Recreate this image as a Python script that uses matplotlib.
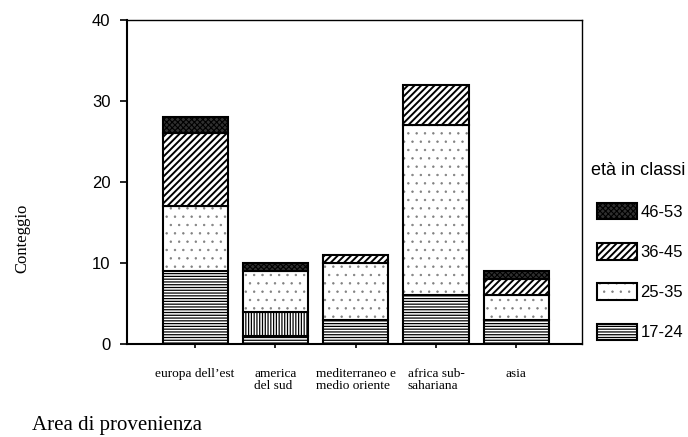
import numpy as np
import matplotlib as mpl
import matplotlib.pyplot as plt
from matplotlib.colors import to_rgba
from matplotlib.patches import Patch

aree = ["europa dell\u2019est", "america\ndel sud", "mediterraneo e\nmedio oriente",
        "africa sub-\nsahariana", "asia"]

# conteggi per classe di età
c17_24 = [9, 1, 3, 6, 3]
c_altro = [0, 3, 0, 0, 0]
c25_35 = [8, 5, 7, 21, 3]
c36_45 = [9, 0, 1, 5, 2]
c46_53 = [2, 1, 0, 0, 1]

classi = ["17-24", "25-35", "36-45", "46-53"]

# (hatch, colore di fondo, colore tratteggio, spessore tratteggio)
stile = {
    "17-24": ('------', 'white', 'black', 0.9),
    "altro": ('||||||', 'white', 'black', 0.9),
    "25-35": ('..', 'white', '#808080', 0.5),
    "36-45": ('/////', 'white', 'black', 1.4),
    "46-53": ('xxxxxx', '#303030', 'black', 0.8),
}

fig = plt.figure(figsize=(6.88, 4.37), dpi=100)
ax = fig.add_axes([0.1846, 0.2128, 0.6616, 0.7414])

x = np.arange(len(aree))
w = 0.81
serie = [("17-24", c17_24), ("altro", c_altro), ("25-35", c25_35),
         ("36-45", c36_45), ("46-53", c46_53)]


def barre(xs, vals, bottom, key):
    h, fc, hc, hl = stile[key]
    with mpl.rc_context({'hatch.linewidth': hl}):
        ax.bar(xs, vals, w, bottom=bottom, facecolor=fc, edgecolor=hc,
               hatch=h, linewidth=0)
    ax.bar(xs, vals, w, bottom=bottom, facecolor='none', edgecolor='black',
           linewidth=1.5)


base = np.zeros(len(aree))
for key, vals in serie:
    vals = np.array(vals, dtype=float)
    m = vals > 0
    barre(x[m], vals[m], base[m], key)
    base += vals

ax.set_xlim(-0.847, 4.82)
ax.set_ylim(0, 40)
ax.set_yticks([0, 10, 20, 30, 40])
ax.set_xticks(x)
ax.set_xticklabels(aree, fontsize=9.6, family='Liberation Serif',
                   linespacing=1.0, multialignment='left')
for lab in ax.get_yticklabels():
    lab.set_family('Liberation Sans')
    lab.set_fontsize(12)
ax.tick_params(axis='y', length=5, width=1.2, direction='out', pad=7)
ax.tick_params(axis='x', length=3, width=1.2, direction='out', pad=14)
for s in ax.spines.values():
    s.set_linewidth(1.5)
ax.spines['right'].set_linewidth(1.0)
ax.spines['top'].set_linewidth(1.0)

fig.text(0.032, 0.455, "Conteggio", rotation=90, va='center', ha='center',
         family='Liberation Serif', fontsize=12)
fig.text(0.0465, 0.027, "Area di provenienza", va='center', ha='left',
         family='Liberation Serif', fontsize=15)

fig.text(591 / 688, 1 - 170 / 437, "età in classi", va='center', ha='left',
         family='Liberation Sans', fontsize=13)

handles = [Patch(facecolor=stile[k][1], edgecolor='black', hatch=stile[k][0],
                 linewidth=1.5) for k in classi[::-1]]
leg = fig.legend(handles, classi[::-1], loc='upper left',
                 bbox_to_anchor=(597 / 688, 1 - 203 / 437), frameon=False,
                 prop={'family': 'Liberation Sans', 'size': 12},
                 handlelength=2.4, handleheight=1.14, labelspacing=1.4,
                 handletextpad=0.2, borderaxespad=0, borderpad=0)

# spessore e colore del tratteggio anche nei simboli della legenda
for p, k in zip(leg.legend_handles, classi[::-1]):
    h, fc, hc, hl = stile[k]
    if hasattr(p, 'set_hatch_linewidth'):
        p.set_hatch_linewidth(hl)
    else:
        p._hatch_linewidth = hl
    p._hatch_color = to_rgba(hc)

fig.savefig("out.png", dpi=100)
